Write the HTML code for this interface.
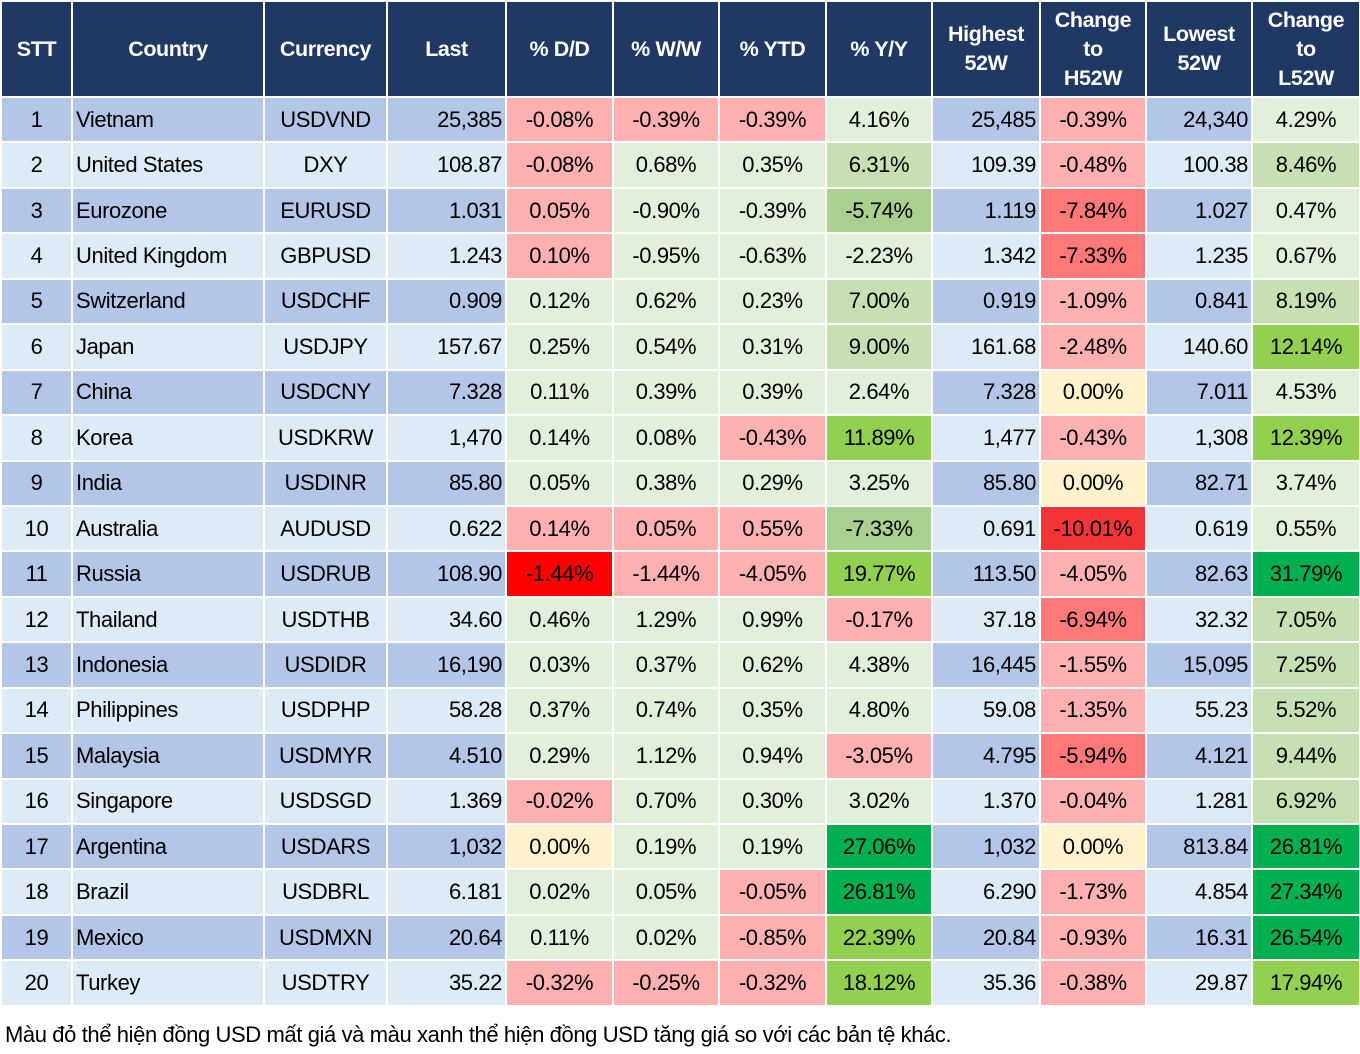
<!DOCTYPE html>
<html><head><meta charset="utf-8">
<style>
body{margin:0;width:1360px;height:1054px;background:#fff;font-family:"Liberation Sans",sans-serif;overflow:hidden}
table{position:absolute;left:0;top:0;border-collapse:collapse;table-layout:fixed;width:1359px}
td,th{border:2px solid #fff;padding:0 3px;font-size:22px;white-space:nowrap;overflow:hidden;letter-spacing:-0.4px}
th{background:#203864;color:#fff;font-weight:bold;height:94px;text-align:center;line-height:29px;font-size:21.5px}
td{height:43.45px;text-align:center;color:#000}
tr.o td{background:#B4C6E7}
tr.e td{background:#DDEBF7}
td.l{text-align:left}
td.r{text-align:right}
tr td.r1{background:#FFB1B1}
tr td.r2{background:#FF7979}
tr td.r3{background:#F33538}
tr td.r4{background:#FF0000}
tr td.y{background:#FFF2CC}
tr td.g1{background:#E2EFDA}
tr td.g2{background:#C6E0B4}
tr td.g3{background:#A9D08E}
tr td.g4{background:#92D050}
tr td.g5{background:#00B050}
.note{position:absolute;left:5px;top:1022px;font-size:22px;letter-spacing:-0.4px}
</style></head><body>
<table>
<colgroup><col style="width:71px"><col style="width:192px"><col style="width:123px"><col style="width:119px"><col style="width:107px"><col style="width:106px"><col style="width:107px"><col style="width:106px"><col style="width:108px"><col style="width:106px"><col style="width:106px"><col style="width:108px"></colgroup>
<tr><th>STT</th><th>Country</th><th>Currency</th><th>Last</th><th>% D/D</th><th>% W/W</th><th>% YTD</th><th>% Y/Y</th><th>Highest<br>52W</th><th>Change<br>to<br>H52W</th><th>Lowest<br>52W</th><th>Change<br>to<br>L52W</th></tr>
<tr class="o"><td>1</td><td class="l">Vietnam</td><td>USDVND</td><td class="r">25,385</td><td class="r1">-0.08%</td><td class="r1">-0.39%</td><td class="r1">-0.39%</td><td class="g1">4.16%</td><td class="r">25,485</td><td class="r1">-0.39%</td><td class="r">24,340</td><td class="g1">4.29%</td></tr>
<tr class="e"><td>2</td><td class="l">United States</td><td>DXY</td><td class="r">108.87</td><td class="r1">-0.08%</td><td class="g1">0.68%</td><td class="g1">0.35%</td><td class="g2">6.31%</td><td class="r">109.39</td><td class="r1">-0.48%</td><td class="r">100.38</td><td class="g2">8.46%</td></tr>
<tr class="o"><td>3</td><td class="l">Eurozone</td><td>EURUSD</td><td class="r">1.031</td><td class="r1">0.05%</td><td class="g1">-0.90%</td><td class="g1">-0.39%</td><td class="g3">-5.74%</td><td class="r">1.119</td><td class="r2">-7.84%</td><td class="r">1.027</td><td class="g1">0.47%</td></tr>
<tr class="e"><td>4</td><td class="l">United Kingdom</td><td>GBPUSD</td><td class="r">1.243</td><td class="r1">0.10%</td><td class="g1">-0.95%</td><td class="g1">-0.63%</td><td class="g1">-2.23%</td><td class="r">1.342</td><td class="r2">-7.33%</td><td class="r">1.235</td><td class="g1">0.67%</td></tr>
<tr class="o"><td>5</td><td class="l">Switzerland</td><td>USDCHF</td><td class="r">0.909</td><td class="g1">0.12%</td><td class="g1">0.62%</td><td class="g1">0.23%</td><td class="g2">7.00%</td><td class="r">0.919</td><td class="r1">-1.09%</td><td class="r">0.841</td><td class="g2">8.19%</td></tr>
<tr class="e"><td>6</td><td class="l">Japan</td><td>USDJPY</td><td class="r">157.67</td><td class="g1">0.25%</td><td class="g1">0.54%</td><td class="g1">0.31%</td><td class="g2">9.00%</td><td class="r">161.68</td><td class="r1">-2.48%</td><td class="r">140.60</td><td class="g4">12.14%</td></tr>
<tr class="o"><td>7</td><td class="l">China</td><td>USDCNY</td><td class="r">7.328</td><td class="g1">0.11%</td><td class="g1">0.39%</td><td class="g1">0.39%</td><td class="g1">2.64%</td><td class="r">7.328</td><td class="y">0.00%</td><td class="r">7.011</td><td class="g1">4.53%</td></tr>
<tr class="e"><td>8</td><td class="l">Korea</td><td>USDKRW</td><td class="r">1,470</td><td class="g1">0.14%</td><td class="g1">0.08%</td><td class="r1">-0.43%</td><td class="g4">11.89%</td><td class="r">1,477</td><td class="r1">-0.43%</td><td class="r">1,308</td><td class="g4">12.39%</td></tr>
<tr class="o"><td>9</td><td class="l">India</td><td>USDINR</td><td class="r">85.80</td><td class="g1">0.05%</td><td class="g1">0.38%</td><td class="g1">0.29%</td><td class="g1">3.25%</td><td class="r">85.80</td><td class="y">0.00%</td><td class="r">82.71</td><td class="g1">3.74%</td></tr>
<tr class="e"><td>10</td><td class="l">Australia</td><td>AUDUSD</td><td class="r">0.622</td><td class="r1">0.14%</td><td class="r1">0.05%</td><td class="r1">0.55%</td><td class="g3">-7.33%</td><td class="r">0.691</td><td class="r3">-10.01%</td><td class="r">0.619</td><td class="g1">0.55%</td></tr>
<tr class="o"><td>11</td><td class="l">Russia</td><td>USDRUB</td><td class="r">108.90</td><td class="r4">-1.44%</td><td class="r1">-1.44%</td><td class="r1">-4.05%</td><td class="g4">19.77%</td><td class="r">113.50</td><td class="r1">-4.05%</td><td class="r">82.63</td><td class="g5">31.79%</td></tr>
<tr class="e"><td>12</td><td class="l">Thailand</td><td>USDTHB</td><td class="r">34.60</td><td class="g1">0.46%</td><td class="g1">1.29%</td><td class="g1">0.99%</td><td class="r1">-0.17%</td><td class="r">37.18</td><td class="r2">-6.94%</td><td class="r">32.32</td><td class="g2">7.05%</td></tr>
<tr class="o"><td>13</td><td class="l">Indonesia</td><td>USDIDR</td><td class="r">16,190</td><td class="g1">0.03%</td><td class="g1">0.37%</td><td class="g1">0.62%</td><td class="g1">4.38%</td><td class="r">16,445</td><td class="r1">-1.55%</td><td class="r">15,095</td><td class="g2">7.25%</td></tr>
<tr class="e"><td>14</td><td class="l">Philippines</td><td>USDPHP</td><td class="r">58.28</td><td class="g1">0.37%</td><td class="g1">0.74%</td><td class="g1">0.35%</td><td class="g1">4.80%</td><td class="r">59.08</td><td class="r1">-1.35%</td><td class="r">55.23</td><td class="g2">5.52%</td></tr>
<tr class="o"><td>15</td><td class="l">Malaysia</td><td>USDMYR</td><td class="r">4.510</td><td class="g1">0.29%</td><td class="g1">1.12%</td><td class="g1">0.94%</td><td class="r1">-3.05%</td><td class="r">4.795</td><td class="r2">-5.94%</td><td class="r">4.121</td><td class="g2">9.44%</td></tr>
<tr class="e"><td>16</td><td class="l">Singapore</td><td>USDSGD</td><td class="r">1.369</td><td class="r1">-0.02%</td><td class="g1">0.70%</td><td class="g1">0.30%</td><td class="g1">3.02%</td><td class="r">1.370</td><td class="r1">-0.04%</td><td class="r">1.281</td><td class="g2">6.92%</td></tr>
<tr class="o"><td>17</td><td class="l">Argentina</td><td>USDARS</td><td class="r">1,032</td><td class="y">0.00%</td><td class="g1">0.19%</td><td class="g1">0.19%</td><td class="g5">27.06%</td><td class="r">1,032</td><td class="y">0.00%</td><td class="r">813.84</td><td class="g5">26.81%</td></tr>
<tr class="e"><td>18</td><td class="l">Brazil</td><td>USDBRL</td><td class="r">6.181</td><td class="g1">0.02%</td><td class="g1">0.05%</td><td class="r1">-0.05%</td><td class="g5">26.81%</td><td class="r">6.290</td><td class="r1">-1.73%</td><td class="r">4.854</td><td class="g5">27.34%</td></tr>
<tr class="o"><td>19</td><td class="l">Mexico</td><td>USDMXN</td><td class="r">20.64</td><td class="g1">0.11%</td><td class="g1">0.02%</td><td class="r1">-0.85%</td><td class="g4">22.39%</td><td class="r">20.84</td><td class="r1">-0.93%</td><td class="r">16.31</td><td class="g5">26.54%</td></tr>
<tr class="e"><td>20</td><td class="l">Turkey</td><td>USDTRY</td><td class="r">35.22</td><td class="r1">-0.32%</td><td class="r1">-0.25%</td><td class="r1">-0.32%</td><td class="g4">18.12%</td><td class="r">35.36</td><td class="r1">-0.38%</td><td class="r">29.87</td><td class="g4">17.94%</td></tr>
</table>
<div class="note">Màu đỏ thể hiện đồng USD mất giá và màu xanh thể hiện đồng USD tăng giá so với các bản tệ khác.</div>
</body></html>
